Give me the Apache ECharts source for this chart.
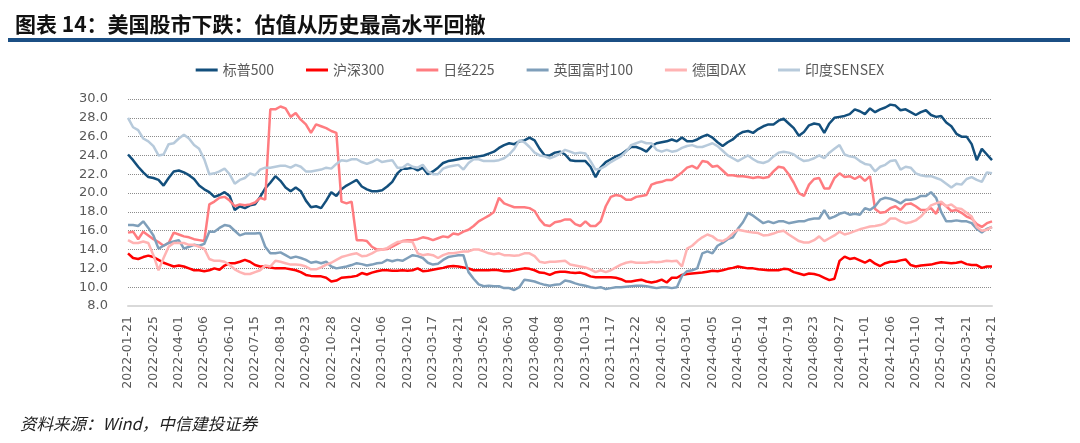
<!DOCTYPE html>
<html>
<head>
<meta charset="utf-8">
<script src="https://cdn.jsdelivr.net/npm/echarts@6/dist/echarts.min.js"></script>
<style>
html,body{margin:0;padding:0;background:#fff;}
#c{width:1080px;height:443px;}
</style>
</head>
<body>
<div id="c"></div>
<script>
// ---------- data ----------
const titleText = '图表 14：美国股市下跌：估值从历史最高水平回撤';
const sourceText = '资料来源：Wind，中信建投证券';
const seriesNames = ['标普500', '沪深300', '日经225', '英国富时100', '德国DAX', '印度SENSEX'];
const yTicks = { min: 8, max: 30, interval: 2 };

// weekly dates (Fridays) from 2022-01-21, final observation 2025-04-21
const startDate = '2022-01-21';
const weeklyCount = 170;
const lastDate = '2025-04-21';

const sp500 = [24.1,23.5,22.8,22.2,21.7,21.6,21.4,20.8,21.6,22.3,22.4,22.2,21.9,21.5,20.8,20.4,20.1,19.6,19.8,20.1,
19.7,18.2,18.6,18.4,18.7,18.8,19.6,20.5,21.1,21.8,21.3,20.6,20.2,20.6,20.2,19.2,18.5,18.6,18.4,19.2,
20.1,19.7,20.4,20.8,21.1,21.4,20.7,20.4,20.2,20.2,20.3,20.7,21.2,22.1,22.6,22.6,22.7,22.4,22.7,22.0,
22.3,22.7,23.2,23.4,23.5,23.6,23.7,23.7,23.8,23.9,24.0,24.2,24.4,24.8,25.1,25.3,25.2,25.5,25.6,25.9,
25.6,24.7,24.0,24.0,24.3,24.4,24.1,23.5,23.4,23.4,23.4,22.8,21.7,22.7,23.3,23.6,23.9,24.1,24.5,24.9,
24.9,24.7,24.4,25.0,25.3,25.4,25.5,25.7,25.5,25.9,25.5,25.5,25.7,26.0,26.2,25.9,25.4,25.0,25.4,25.7,
26.2,26.5,26.6,26.4,26.8,27.1,27.3,27.3,27.7,27.9,27.4,26.9,26.1,26.5,27.2,27.4,27.3,26.4,27.4,28.0,
28.1,28.2,28.4,28.9,28.7,28.4,29.0,28.6,28.9,29.1,29.4,29.3,28.8,28.9,28.6,28.3,28.6,28.8,28.3,28.1,
28.2,27.5,27.1,26.3,26.0,26.0,25.2,23.5,24.7,24.1,23.5];

const csi300 = [13.6,13.1,13.0,13.2,13.35,13.2,12.9,12.6,12.4,12.2,12.3,12.2,12.0,11.8,11.8,11.7,11.8,12.0,11.85,12.3,
12.55,12.55,12.7,12.9,12.7,12.35,12.2,12.2,12.1,12.0,12.0,12.0,11.9,11.8,11.6,11.3,11.2,11.15,11.15,11.0,
10.6,10.7,11.0,11.05,11.1,11.2,11.5,11.35,11.55,11.7,11.8,11.8,11.75,11.75,11.8,11.75,11.8,12.0,11.7,11.75,
11.85,11.95,12.05,12.2,12.25,12.2,12.1,12.0,11.8,11.8,11.8,11.8,11.85,11.8,11.7,11.7,11.8,11.9,12.0,11.95,
11.8,11.55,11.5,11.3,11.55,11.65,11.65,11.55,11.5,11.55,11.4,11.15,11.05,11.05,11.05,11.05,11.0,10.85,10.6,10.6,
10.7,10.8,10.6,10.5,10.6,10.8,10.5,11.0,11.0,11.3,11.4,11.45,11.5,11.55,11.65,11.75,11.7,11.8,11.95,12.05,
12.2,12.1,12.0,12.0,11.9,11.85,11.8,11.8,11.8,11.95,11.9,11.6,11.45,11.3,11.45,11.4,11.25,11.0,10.75,10.9,
12.8,13.25,13.0,13.1,12.85,12.6,12.9,12.5,12.25,12.55,12.7,12.7,12.85,12.95,12.35,12.2,12.3,12.35,12.4,12.55,
12.65,12.6,12.55,12.6,12.7,12.45,12.35,12.35,12.05,12.2,12.2];

const nikkei225 = [15.8,15.9,15.1,15.9,15.5,15.1,14.8,14.4,14.7,15.8,15.6,15.4,15.3,15.1,15.0,14.9,18.8,19.1,19.5,19.6,
19.2,18.6,18.8,18.7,18.8,19.0,19.5,19.3,28.9,28.9,29.2,29.0,28.1,28.5,27.8,27.3,26.4,27.3,27.1,26.9,
26.6,26.4,19.1,18.9,19.1,15.0,15.0,14.9,14.3,14.0,14.0,14.05,14.3,14.6,14.9,15.0,15.0,15.1,15.3,15.2,
15.0,15.2,15.4,15.3,15.7,15.6,15.9,16.1,16.5,17.0,17.3,17.6,18.0,19.5,18.9,18.7,18.5,18.5,18.5,18.4,
18.1,17.2,16.6,16.5,16.9,17.0,17.2,17.2,16.7,16.5,17.0,16.5,16.5,17.0,18.6,19.6,19.8,19.7,19.3,19.3,
19.6,19.7,19.8,20.9,21.1,21.2,21.4,21.4,21.8,22.2,22.7,22.9,22.6,23.4,23.3,22.8,22.9,22.4,21.9,21.9,
21.8,21.8,21.7,21.6,21.7,21.6,21.7,22.3,22.8,22.7,22.0,21.1,20.0,19.7,20.9,21.5,21.6,20.5,20.5,21.6,
22.1,21.7,21.8,21.5,21.8,21.3,21.8,18.3,17.9,18.0,18.4,18.6,18.2,18.8,18.9,18.6,18.2,18.2,18.4,17.8,
19.0,18.6,18.1,18.2,17.9,17.5,17.3,16.7,16.4,16.8,17.0];

const ftse100 = [16.6,16.6,16.5,17.0,16.3,15.5,14.1,14.4,14.7,14.85,15.0,14.1,14.3,14.5,14.4,14.6,15.9,15.9,16.3,16.6,
16.5,16.0,15.5,15.7,15.7,15.7,15.75,14.3,13.6,13.6,13.7,13.4,13.1,13.25,13.1,12.9,12.6,12.7,12.55,12.7,
12.2,12.0,12.1,12.2,12.35,12.55,12.45,12.3,12.4,12.55,12.6,12.9,12.75,12.9,12.8,13.1,13.4,13.3,13.1,12.6,
12.4,12.5,12.9,13.2,13.3,13.4,13.4,11.6,10.9,10.3,10.1,10.15,10.1,10.1,9.9,9.9,9.7,10.0,10.8,10.7,
10.6,10.4,10.25,10.15,10.25,10.3,10.7,10.6,10.4,10.25,10.15,10.0,9.9,10.0,9.8,9.9,10.0,10.0,10.05,10.1,
10.15,10.15,10.1,10.0,9.9,10.0,10.0,9.9,10.0,11.2,11.7,11.8,12.0,13.6,13.8,13.6,14.4,14.7,15.1,15.3,
16.2,16.9,17.9,17.6,17.2,16.8,17.0,16.8,17.0,17.0,16.8,16.9,17.0,17.0,17.2,17.3,17.3,18.2,17.3,17.5,
17.8,17.95,17.7,17.8,17.7,18.4,18.2,18.6,19.3,19.5,19.4,19.2,18.9,19.3,19.3,19.4,19.7,19.7,20.1,19.5,
18.0,17.0,17.0,17.1,17.0,17.0,16.8,16.2,15.8,16.2,16.4];

const dax = [15.0,14.7,14.7,14.85,14.7,13.4,11.8,13.1,14.3,14.7,14.7,14.7,14.5,14.5,14.3,14.1,13.0,12.8,12.8,12.7,
12.35,11.9,11.6,11.4,11.4,11.6,11.8,12.3,12.2,12.8,12.7,12.55,12.4,12.4,12.35,12.2,11.9,11.9,12.1,12.4,
12.6,12.9,13.2,13.35,13.5,13.6,13.3,13.35,13.6,13.9,14.0,14.15,14.5,14.8,14.85,14.85,14.8,13.6,13.4,13.5,
13.4,13.1,13.4,13.6,13.6,13.7,13.8,13.8,14.0,14.0,13.8,13.6,13.5,13.6,13.4,13.4,13.35,13.4,13.6,13.6,
13.3,12.7,12.6,12.7,12.7,12.75,12.8,12.4,12.3,12.2,12.1,11.9,11.6,11.8,11.6,11.8,12.1,12.4,12.6,12.7,
12.6,12.6,12.6,12.7,12.65,12.7,12.8,12.75,12.8,12.2,14.1,14.4,14.9,15.3,15.6,15.4,15.0,14.9,15.2,15.7,
16.1,16.0,15.9,15.8,15.75,15.5,15.55,15.7,15.9,16.0,15.6,15.25,14.9,14.75,14.75,15.0,15.4,14.9,15.2,15.5,
15.9,15.6,15.75,15.95,16.15,16.3,16.45,16.5,16.6,16.8,17.3,17.3,17.0,16.8,16.9,17.1,17.5,18.1,18.7,18.9,
19.1,18.6,18.8,18.4,18.3,17.9,17.5,16.4,16.0,16.1,16.4];

const sensex = [28.0,27.0,26.7,25.8,25.5,25.0,24.0,24.1,25.2,25.3,25.8,26.2,25.8,25.1,24.7,23.6,22.0,22.1,22.3,22.6,
22.0,21.0,21.4,21.6,22.1,21.9,22.5,22.7,22.7,22.8,22.9,22.9,22.7,23.0,22.8,22.3,22.3,22.4,22.5,22.7,
22.6,23.1,23.5,23.4,23.6,23.6,23.3,23.1,23.3,23.6,23.3,23.4,23.5,22.7,22.7,23.1,22.8,22.7,23.0,22.3,
22.0,22.0,22.6,22.8,22.9,23.0,22.5,23.2,23.6,23.6,23.4,23.4,23.4,23.5,23.7,24.1,24.7,25.6,25.4,24.9,
24.3,24.0,23.9,23.7,23.9,24.2,24.6,24.4,24.2,24.3,24.2,23.4,22.5,22.6,22.9,23.3,23.6,23.9,24.4,25.1,
25.3,25.5,25.3,25.3,24.6,24.4,24.6,24.4,24.5,24.8,25.0,25.1,24.9,24.9,25.1,25.3,25.0,24.5,24.0,23.7,
23.4,23.7,24.0,23.6,23.3,23.2,23.4,23.9,24.3,24.4,24.3,24.1,23.7,23.4,23.5,23.7,24.0,23.7,24.3,24.7,
25.1,24.1,23.9,23.8,23.4,23.1,23.0,22.3,22.8,23.0,23.4,23.5,22.5,22.8,22.7,22.1,21.9,21.8,21.8,21.6,
21.4,21.0,20.6,21.0,20.9,21.5,21.7,21.4,21.2,22.2,22.1];

const seriesColors = ['#134f7c', '#ff0000', '#ff7c80', '#7f9fba', '#ffb3b3', '#b7cadb'];

// ---------- categories ----------
function weeklyDates(start, n) {
  const out = [];
  const d0 = new Date(start + 'T00:00:00Z');
  for (let i = 0; i < n; i++) {
    const d = new Date(d0.getTime() + i * 7 * 86400000);
    out.push(d.toISOString().slice(0, 10));
  }
  return out;
}
const dates = weeklyDates(startDate, weeklyCount).concat([lastDate]);

const seriesData = [sp500, csi300, nikkei225, ftse100, dax, sensex];

// ---------- chart ----------
const chart = echarts.init(document.getElementById('c'), null, { renderer: 'canvas' });
const baseFont = '"Noto Sans CJK SC", "Noto Sans", sans-serif';

chart.setOption({
  backgroundColor: '#ffffff',
  animation: false,
  title: {
    text: titleText,
    left: 10,
    top: 9,
    textStyle: { fontSize: 21, fontWeight: 'bold', color: '#111', fontFamily: baseFont }
  },
  graphic: [
    { type: 'rect', left: 8, top: 38, shape: { width: 1062, height: 4 }, style: { fill: '#1b4f84' } },
    { type: 'text', left: 20, top: 415,
      style: { text: sourceText, fontSize: 16.5, fontStyle: 'italic', fill: '#222', fontFamily: baseFont } }
  ],
  legend: {
    top: 58,
    left: 'center',
    icon: 'rect',
    itemWidth: 22,
    itemHeight: 3,
    itemGap: 32,
    textStyle: { fontSize: 14, color: '#595959', fontFamily: baseFont },
    data: seriesNames
  },
  grid: { left: 128, right: 88, top: 99, bottom: 137, containLabel: false },
  xAxis: {
    type: 'category',
    data: dates,
    boundaryGap: false,
    axisLine: { show: true, lineStyle: { color: '#d9d9d9', width: 2 } },
    axisTick: { show: false },
    axisLabel: { rotate: 90, interval: 4, margin: 10, fontSize: 12.5, color: '#595959', fontFamily: '"DejaVu Sans", sans-serif' },
    splitLine: { show: false }
  },
  yAxis: {
    type: 'value',
    min: yTicks.min,
    max: yTicks.max,
    interval: yTicks.interval,
    axisLine: { show: false },
    axisTick: { show: false },
    axisLabel: { margin: 20, fontSize: 13, color: '#595959', fontFamily: '"DejaVu Sans", sans-serif',
      formatter: v => v.toFixed(1) },
    splitLine: { show: true, lineStyle: { color: '#8c8c8c', type: 'dotted', width: 1 } }
  },
  series: seriesNames.map((name, k) => ({
    name,
    type: 'line',
    data: seriesData[k],
    showSymbol: false,
    symbol: 'none',
    smooth: false,
    lineStyle: { width: 2.5, color: seriesColors[k] },
    itemStyle: { color: seriesColors[k] },
    emphasis: { disabled: true }
  }))
});
</script>
</body>
</html>
